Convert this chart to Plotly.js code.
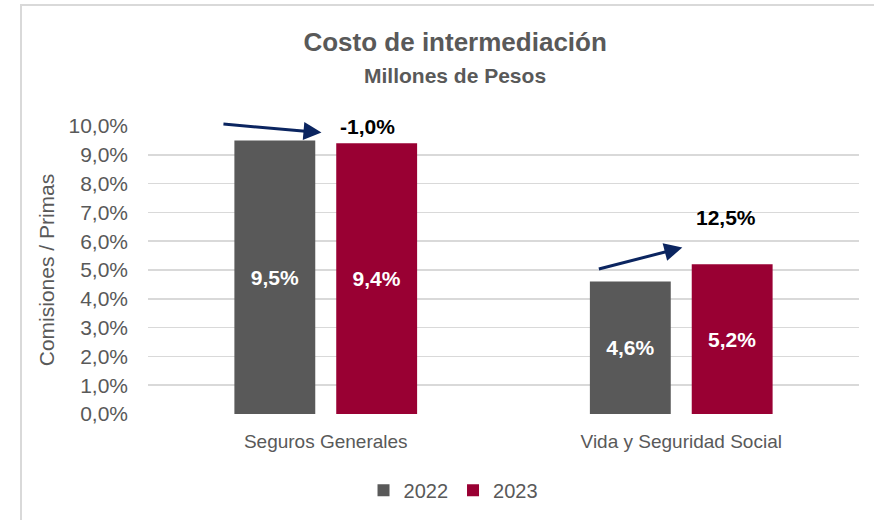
<!DOCTYPE html>
<html>
<head>
<meta charset="utf-8">
<script src="https://cdn.plot.ly/plotly-3.0.1.min.js"></script>
<style>
  html, body { margin: 0; padding: 0; background: #ffffff; }
  #wrap { position: relative; width: 874px; height: 520px; overflow: hidden; }
  #chart { position: absolute; left: 0; top: 0; width: 874px; height: 520px; }
  #frame { position: absolute; left: 20px; top: 4px; width: 900px; height: 600px;
           border-left: 2px solid #d9d9d9; border-top: 2px solid #d9d9d9; pointer-events: none; }
</style>
</head>
<body>
<div id="wrap">
  <div id="chart"></div>
  <div id="frame"></div>
</div>
<script>
// ---- data ----
const categories = ['Seguros Generales', 'Vida y Seguridad Social'];
const seriesNames = ['2022', '2023'];
const values2022 = [9.5, 4.6];
const values2023 = [9.4, 5.2];
const changeLabels = ['-1,0%', '12,5%'];
const yTickValues = [0, 1, 2, 3, 4, 5, 6, 7, 8, 9, 10];
const yTickLabels = ['0,0%', '1,0%', '2,0%', '3,0%', '4,0%', '5,0%', '6,0%', '7,0%', '8,0%', '9,0%', '10,0%'];

// ---- styles ----
const FONT = 'Liberation Sans, Arial, sans-serif';
const GREY = '#595959';
const colors = ['#595959', '#990033'];
const NAVY = '#0b2560';

const traces = [
  {
    type: 'bar', name: seriesNames[0], x: categories, y: values2022,
    marker: { color: colors[0] },
    texttemplate: '<b>%{y:.1f}%</b>', textposition: 'inside', insidetextanchor: 'middle',
    textfont: { family: FONT, size: 21, color: '#ffffff' },
    hoverinfo: 'skip'
  },
  {
    type: 'bar', name: seriesNames[1], x: categories, y: values2023,
    marker: { color: colors[1] },
    texttemplate: '<b>%{y:.1f}%</b>', textposition: 'inside', insidetextanchor: 'middle',
    textfont: { family: FONT, size: 21, color: '#ffffff' },
    hoverinfo: 'skip'
  }
];

// annotation placement (category index offsets, value units)
const arrowSpecs = [
  { x: -0.012, y: 9.77, ax: -0.292, ay: 10.07 },
  { x: 1.003, y: 5.78, ax: 0.764, ay: 5.02 }
];
const labelSpecs = [
  { x: 0.118, y: 9.97 },
  { x: 1.126, y: 6.82 }
];

const annotations = [];
arrowSpecs.forEach(a => {
  annotations.push({
    x: a.x, y: a.y, ax: a.ax, ay: a.ay, xref: 'x', yref: 'y', axref: 'x', ayref: 'y',
    text: '', showarrow: true, arrowhead: 2, arrowsize: 1.2, arrowwidth: 3, arrowcolor: NAVY
  });
});
labelSpecs.forEach((p, i) => {
  annotations.push({
    x: p.x, y: p.y, xref: 'x', yref: 'y', text: '<b>' + changeLabels[i] + '</b>',
    showarrow: false, font: { family: FONT, size: 21, color: '#000000' }
  });
});
annotations.push({
  x: 0.432, y: 1.176, xref: 'paper', yref: 'paper', xanchor: 'center', yanchor: 'middle',
  text: '<b>Millones de Pesos</b>', showarrow: false,
  font: { family: FONT, size: 21, color: GREY }
});

const layout = {
  width: 874, height: 520,
  margin: { l: 148, r: 15, t: 126, b: 105 },
  paper_bgcolor: 'rgba(0,0,0,0)', plot_bgcolor: 'rgba(0,0,0,0)',
  separators: ', ',
  font: { family: FONT, color: GREY },
  title: {
    text: '<b>Costo de intermediación</b>',
    font: { family: FONT, size: 26, color: GREY },
    x: 0.432, xanchor: 'center', xref: 'paper', y: 0.919, yanchor: 'middle', yref: 'container'
  },
  barmode: 'group', bargap: 0.427, bargroupgap: 0.206,
  xaxis: {
    type: 'category', showgrid: false, showline: false, zeroline: false, ticks: '',
    tickfont: { family: FONT, size: 19, color: GREY }, ticklabelstandoff: 14
  },
  yaxis: {
    range: [0, 10], tickmode: 'array', tickvals: yTickValues, ticktext: yTickLabels,
    showgrid: true, gridcolor: '#d9d9d9', gridwidth: 1.5, zeroline: false, showline: false,
    ticks: '', ticklabelstandoff: 19,
    tickfont: { family: FONT, size: 21, color: GREY },
    title: { text: 'Comisiones / Primas', font: { family: FONT, size: 21, color: GREY }, standoff: 8 }
  },
  showlegend: true,
  legend: {
    orientation: 'h', x: 0.429, xanchor: 'center', y: -0.26, yanchor: 'middle',
    font: { family: FONT, size: 20, color: GREY }, itemwidth: 20, traceorder: 'normal'
  },
  annotations: annotations
};

Plotly.newPlot('chart', traces, layout, { displayModeBar: false, staticPlot: true });
</script>
</body>
</html>
